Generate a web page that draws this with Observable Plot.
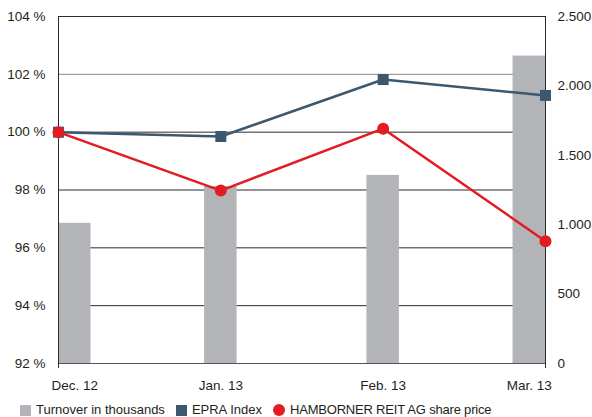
<!DOCTYPE html>
<html>
<head>
<meta charset="utf-8">
<script src="https://cdn.jsdelivr.net/npm/d3@7"></script>
<script src="https://cdn.jsdelivr.net/npm/@observablehq/plot@0.6"></script>
<style>
  body { margin: 0; background: #fff; font-family: "Liberation Sans", Arial, sans-serif; color: #231f20; }
  #chart { width: 592px; }
  .legend { display: flex; align-items: center; font-size: 13px; line-height: 16px; margin-top: 4px; padding-left: 20px; color: #231f20; }
  .legend .item { display: flex; align-items: center; margin-right: 11px; }
  .legend .sw { width: 11px; height: 11px; margin-right: 5px; }
  .legend .dot { width: 12px; height: 12px; border-radius: 50%; margin-right: 5px; }
  .legend .last { letter-spacing: -0.2px; }
</style>
</head>
<body>
<div id="chart"></div>
<script>
const months = ["Dec. 12", "Jan. 13", "Feb. 13", "Mar. 13"];
const turnover = [1010, 1275, 1355, 2215];           // thousands (right axis)
const epra = [100.0, 99.85, 101.82, 101.27];         // % (left axis)
const hamborner = [100.0, 97.98, 100.12, 96.23];     // % (left axis)
const pctTicks = [92, 94, 96, 98, 100, 102, 104];
const turnoverTicks = [0, 500, 1000, 1500, 2000, 2500];

const pctMin = 92, pctMax = 104, turnMax = 2500;
const toPct = v => pctMin + v / turnMax * (pctMax - pctMin);
const fromPct = p => (p - pctMin) / (pctMax - pctMin) * turnMax;
const de = d3.formatLocale({decimal: ",", thousands: ".", grouping: [3], currency: ["", " €"]});
const fmtThousands = de.format(",d");

const last = months.length - 1;
const barW = 0.2;
const barRows = turnover.map((v, i) => {
  let x1 = i - barW / 2, x2 = i + barW / 2;
  if (x1 < 0) { x1 = 0; x2 = barW; }
  if (x2 > last) { x2 = last; x1 = last - barW; }
  return {i, x1, x2, xc: (x1 + x2) / 2, v: toPct(v)};
});
const epraRows = epra.map((v, i) => ({i, v}));
const hamRows = hamborner.map((v, i) => ({i, v}));

const blue = "#3b586f", red = "#e31b23", grey = "#b3b4b7", dark = "#2b2b2b";

const chart = Plot.plot({
  width: 592,
  height: 398,
  marginLeft: 58,
  marginRight: 47,
  marginTop: 16,
  marginBottom: 35,
  style: {fontFamily: "Liberation Sans, Arial, sans-serif", fontSize: "13.5px", color: "#231f20", background: "#fff"},
  x: {domain: [0, last]},
  y: {domain: [pctMin, pctMax]},
  marks: [
    Plot.ruleY(pctTicks.filter(d => d > pctMin), {stroke: d => d === 102 ? "#8a8a8a" : dark, strokeWidth: 1}),
    Plot.rectY(barRows, {x1: "x1", x2: "x2", y1: pctMin, y2: "v", fill: grey, inset: 0}),
    Plot.ruleY([pctMin], {stroke: "#555", strokeWidth: 1}),
    Plot.ruleX([0, last], {y1: pctMin, y2: pctMax, stroke: dark, strokeWidth: 1}),
    Plot.line(epraRows, {x: "i", y: "v", stroke: blue, strokeWidth: 2.5}),
    Plot.dot(epraRows, {x: "i", y: "v", symbol: "square", r: 6.2, fill: blue}),
    Plot.line(hamRows, {x: "i", y: "v", stroke: red, strokeWidth: 2.5}),
    Plot.dot(hamRows, {x: "i", y: "v", r: 6, fill: red}),
    Plot.axisY({anchor: "left", ticks: pctTicks, tickSize: 0, tickPadding: 13, tickFormat: d => d + " %", label: null}),
    Plot.axisY({anchor: "right", ticks: turnoverTicks.map(toPct), tickSize: 0, tickPadding: 12,
      tickFormat: d => fmtThousands(Math.round(fromPct(d))), label: null}),
    Plot.axisX({ticks: barRows.map(d => d.xc), tickSize: 0, tickPadding: 17,
      tickFormat: d => months[Math.round(d)], label: null}),
    Plot.axisX({ticks: [0, last], tickSize: 5, tickFormat: () => "", stroke: dark, label: null})
  ]
});
document.getElementById("chart").appendChild(chart);

const legend = document.createElement("div");
legend.className = "legend";
legend.innerHTML = `
  <div class="item"><span class="sw" style="background:${grey}"></span>Turnover in thousands</div>
  <div class="item"><span class="sw" style="background:${blue}"></span>EPRA Index</div>
  <div class="item last"><span class="dot" style="background:${red}"></span>HAMBORNER REIT AG share price</div>`;
document.getElementById("chart").appendChild(legend);
</script>
</body>
</html>
